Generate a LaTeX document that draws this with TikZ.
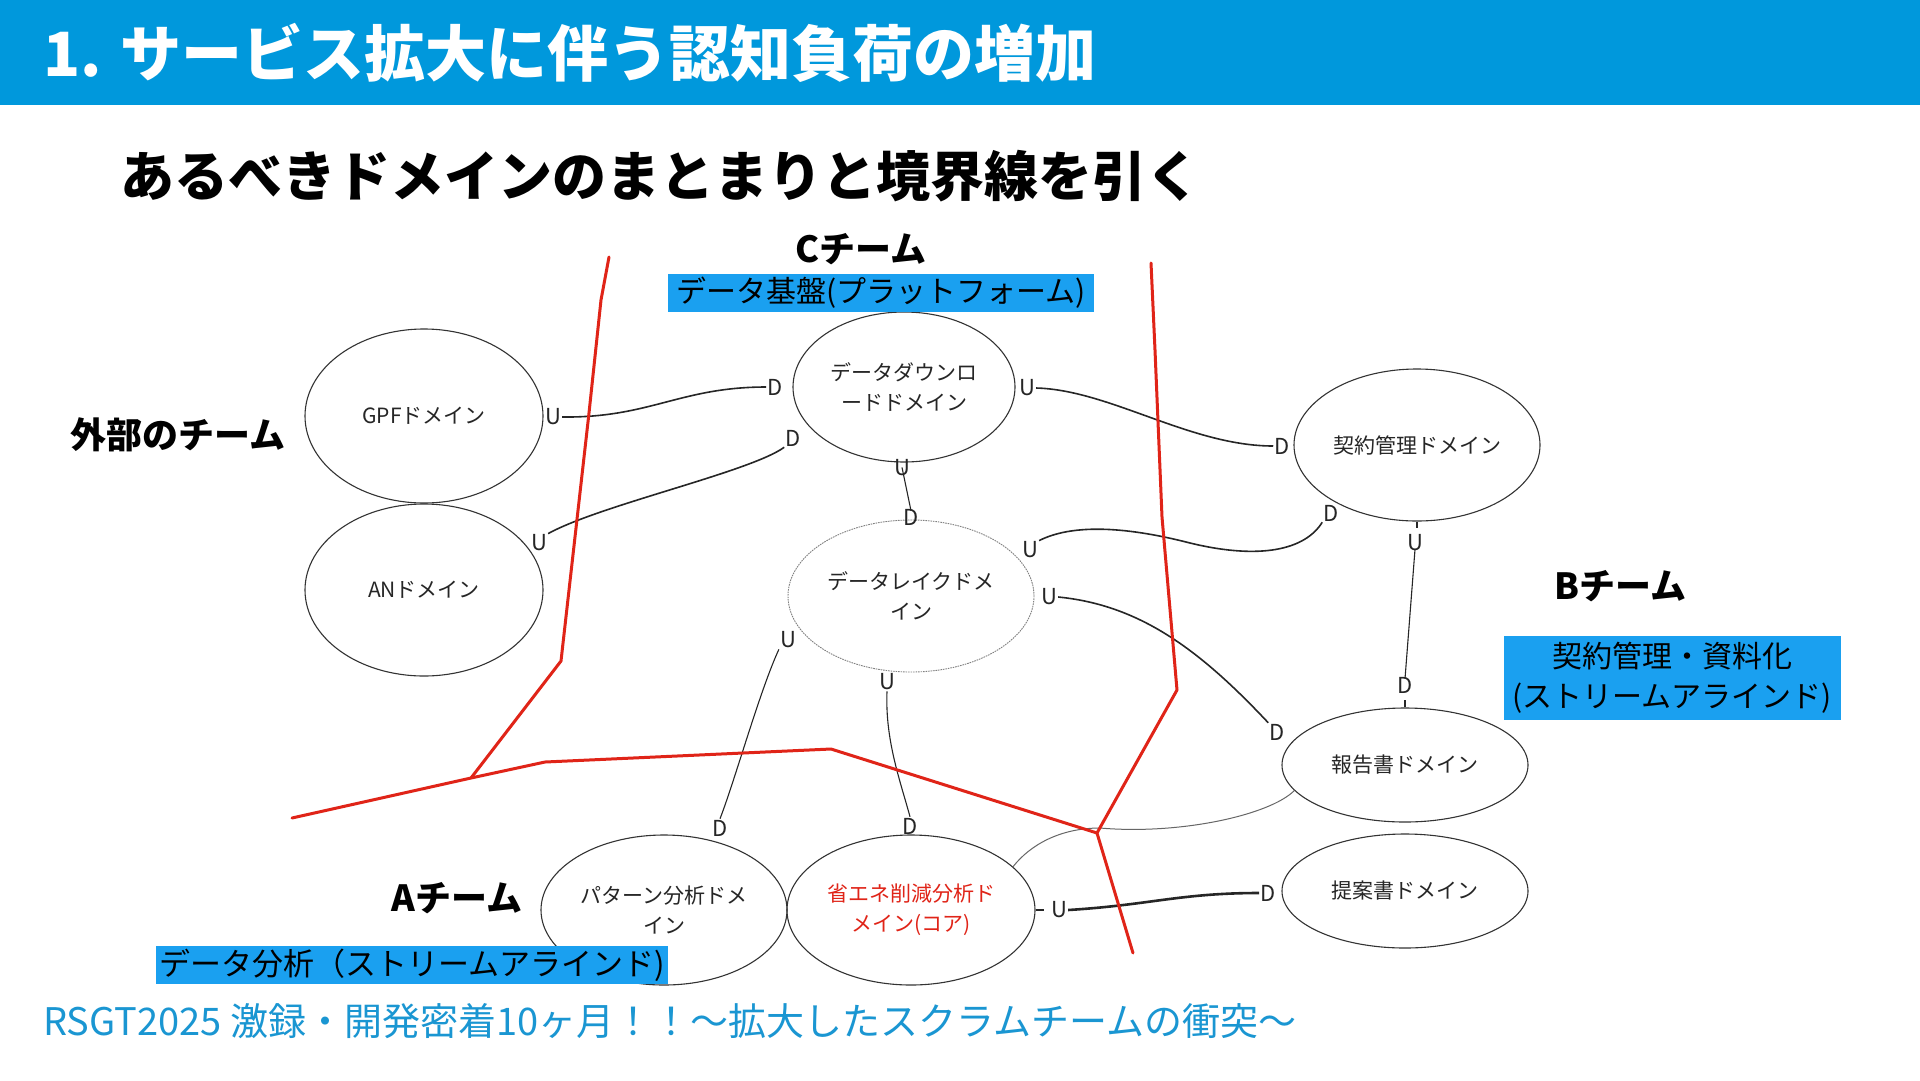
\documentclass[tikz,border=0pt]{standalone}
\usepackage{fontspec}
\setmainfont{Noto Sans CJK JP}
\usetikzlibrary{shapes.geometric}
\definecolor{hdr}{HTML}{0098DC}
\definecolor{tagblue}{HTML}{1AA0F0}
\definecolor{foot}{HTML}{1A96D2}
\definecolor{bred}{HTML}{E02418}
\newcommand{\fsz}[2]{\fontsize{#1pt}{#2pt}\selectfont}
\begin{document}
\begin{tikzpicture}[x=1pt,y=-1pt,
  dom/.style={ellipse,draw=black!80,line width=1.1pt,inner sep=0pt,align=center,font=\fsz{21}{30},text=black!85},
  lake/.style={dom,draw=black!50,line width=0.9pt,dash pattern=on 1.6pt off 0.9pt},
  lbl/.style={font=\fsz{22}{24},text=black!85,inner sep=1pt},
  team/.style={font=\fsz{36}{40}\bfseries,text=black,inner sep=0pt},
  tag/.style={fill=tagblue,text=black,font=\fsz{30}{40},inner sep=0pt,align=center},
  conn/.style={draw=black!85,line width=1.6pt},
  thin/.style={draw=black!85,line width=1.1pt},
  redl/.style={draw=bred,line width=3pt,line join=round,line cap=round}]
\useasboundingbox (0,0) rectangle (1920,1080);
\fill[white] (0,0) rectangle (1920,1080);
% header
\fill[hdr] (0,0) rectangle (1920,105);
\node[anchor=west,text=white,font=\fsz{61}{66}\bfseries,inner sep=0pt] (title) at (43,53) {1. サービス拡大に伴う認知負荷の増加};
\node[anchor=west,font=\fsz{54}{60}\bfseries,inner sep=0pt] (sub) at (120,176) {あるべきドメインのまとまりと境界線を引く};
% domains
\node[dom,minimum width=238pt,minimum height=174pt] (gpf) at (424,416) {GPFドメイン};
\node[dom,minimum width=238pt,minimum height=172pt] (an) at (424,590) {ANドメイン};
\node[dom,minimum width=222pt,minimum height=150pt] (dd) at (904,387) {データダウンロ\\ードドメイン};
\node[lake,minimum width=246pt,minimum height=152pt] (dl) at (911,596) {データレイクドメ\\イン};
\node[dom,minimum width=246pt,minimum height=152pt] (kei) at (1417,445) {契約管理ドメイン};
\node[dom,minimum width=246pt,minimum height=114pt] (hou) at (1405,765) {報告書ドメイン};
\node[dom,minimum width=246pt,minimum height=114pt] (tei) at (1405,891) {提案書ドメイン};
\node[dom,minimum width=246pt,minimum height=150pt] (pat) at (664,910) {パターン分析ドメ\\イン};
\node[dom,minimum width=248pt,minimum height=150pt,text=bred] (sho) at (911,910) {省エネ削減分析ド\\メイン(コア)};
% U / D labels
\node[lbl] (u1) at (553,417) {U};  \node[lbl] (d1) at (775,387) {D};
\node[lbl] (u2) at (539,543) {U};  \node[lbl] (d2) at (793,438) {D};
\node[lbl] (u3) at (902,468) {U};  \node[lbl] (d3) at (911,517) {D};
\node[lbl] (u4) at (1027,388) {U}; \node[lbl] (d4) at (1282,446) {D};
\node[lbl] (u5) at (1030,550) {U}; \node[lbl] (d5) at (1331,513) {D};
\node[lbl] (u6) at (1049,597) {U}; \node[lbl] (d6) at (1277,732) {D};
\node[lbl] (u7) at (1415,543) {U}; \node[lbl] (d7) at (1405,685) {D};
\node[lbl] (u8) at (788,640) {U};  \node[lbl] (d8) at (720,828) {D};
\node[lbl] (u9) at (887,682) {U};  \node[lbl] (d9) at (910,826) {D};
\node[lbl] (u10) at (1059,910) {U};\node[lbl] (d10) at (1268,893) {D};
% connectors
\draw[conn] (u1.east) .. controls (650,418) and (680,387) .. (d1.west);
\draw[conn] (u2.north east) .. controls (600,505) and (750,472) .. (d2.south west);
\draw[thin] ([yshift=10pt]u3.south) -- ([yshift=-3pt]d3.north);
\draw[conn] (u4.east) .. controls (1110,390) and (1190,446) .. (d4.west);
\draw[conn] (u5.north east) .. controls (1070,525) and (1120,525) .. (1190,543) .. controls (1260,560) and (1305,550) .. (d5.south west);
\draw[conn] (u6.east) .. controls (1140,605) and (1200,650) .. (d6.north west);
\draw[thin] (kei.south) -- ++(0,6);
\draw[thin] ([yshift=3pt]u7.south) -- ([yshift=-3pt]d7.north);
\draw[thin] (hou.north) -- ++(0,-7);
\draw[thin] (u8.south west) .. controls (760,690) and (735,780) .. (d8.north);
\draw[thin] (u9.south) .. controls (885,740) and (900,780) .. (d9.north);
\draw[thin] (sho.east) -- ++(8,0);
\draw[draw=black!85,line width=2.6pt] (u10.east) .. controls (1150,905) and (1180,893) .. (d10.west);
\draw[draw=black!60,line width=1pt] (sho.23) .. controls (1030,845) and (1060,828) .. (1100,828) .. controls (1180,835) and (1270,815) .. (hou.193);
% boundaries
\draw[redl] (609,257) -- (601,300) -- (589,413) -- (561,661) -- (471,778);
\draw[redl] (292,818) -- (471,778) -- (545,762) -- (831,749) -- (1097,833);
\draw[redl] (1151,263) -- (1155,350) -- (1162,517) -- (1177,690) -- (1097,833) -- (1133,953);
% team labels and tags
\node[team] (cteam) at (861,249) {Cチーム};
\node[tag,minimum width=426pt,minimum height=38pt] (tagc) at (881,293) {データ基盤(プラットフォーム)};
\node[team,anchor=west] (ext) at (70,435) {外部のチーム};
\node[team] (bteam) at (1620,586) {Bチーム};
\node[tag,minimum width=337pt,minimum height=84pt] (tagb) at (1672,678) {契約管理・資料化\\(ストリームアラインド)};
\node[team] (ateam) at (457,898) {Aチーム};
\node[tag,minimum width=512pt,minimum height=38pt,font=\fsz{31}{40}] (taga) at (412,965) {データ分析（ストリームアラインド)};
% footer
\node[anchor=west,text=foot,font=\fsz{38}{42},inner sep=0pt] (footer) at (43,1021) {RSGT2025 激録・開発密着10ヶ月！！〜拡大したスクラムチームの衝突〜};
\end{tikzpicture}
\end{document}
